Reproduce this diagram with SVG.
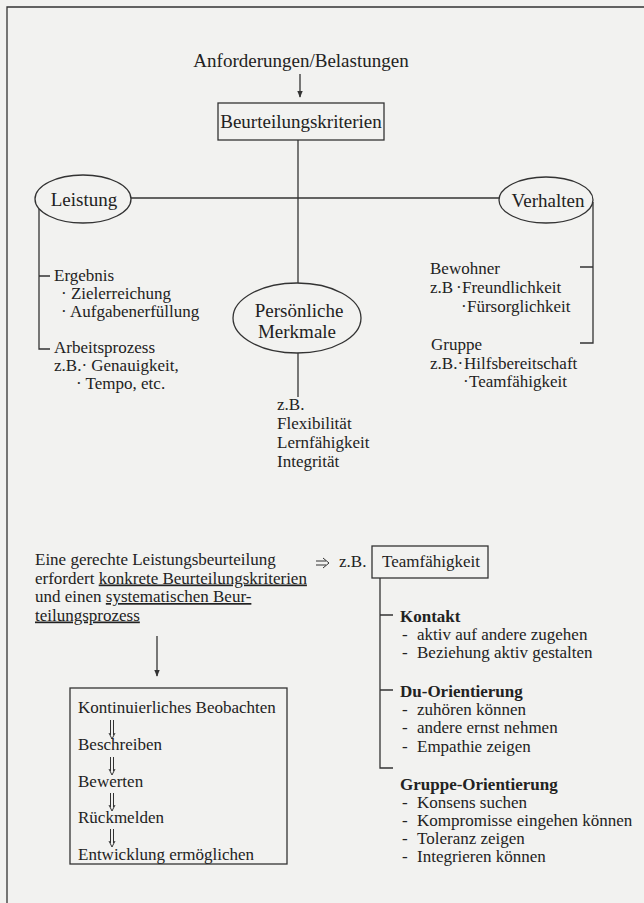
<svg xmlns="http://www.w3.org/2000/svg" width="644" height="903" viewBox="0 0 644 903">
<defs>
<style>
text{font-family:"Liberation Serif","Times New Roman",serif;fill:#222;font-size:17px}
.big{font-size:19px}
.b{font-weight:bold}
.ln{stroke:#333;stroke-width:1.3;fill:none}
.shape{stroke:#333;stroke-width:1.3;fill:none}
.dbl{stroke:#333;stroke-width:1;fill:none}
.u{text-decoration:underline}
</style>
<marker id="ah" viewBox="0 0 10 10" refX="9" refY="5" markerWidth="7" markerHeight="9" orient="auto" markerUnits="userSpaceOnUse">
<path d="M0,1 L10,5 L0,9 z" fill="#333"/>
</marker>
</defs>
<rect x="0" y="0" width="644" height="903" fill="#f2f2f0"/>
<!-- frame -->
<path class="ln" d="M7,903 V7 H644" stroke-width="1.6"/>

<g id="connectors">
<line class="ln" x1="300" y1="74" x2="300" y2="97" marker-end="url(#ah)"/>
<line class="ln" x1="298" y1="140" x2="298" y2="283"/>
<line class="ln" x1="131" y1="198" x2="499" y2="198"/>
<path class="ln" d="M39,209 V349 H50 M39,276 H50"/>
<path class="ln" d="M593,202 V343 H580 M593,267 H580"/>
<line class="ln" x1="298" y1="353" x2="298" y2="397"/>
<line class="ln" x1="157" y1="636" x2="157" y2="676" marker-end="url(#ah)"/>
<path class="ln" d="M380,578 V768 H393 M380,615 H393 M380,690 H393"/>
<path class="dbl" d="M316,561 H326 M316,565 H326 M323,558 L329,563 L323,568"/>
<g class="dbl">
<path d="M110.5,720 V735 M113.5,720 V735 M109,733 L112,739 L115,733"/>
<path d="M110.5,757 V771 M113.5,757 V771 M109,769 L112,775 L115,769"/>
<path d="M110.5,793 V807 M113.5,793 V807 M109,805 L112,811 L115,805"/>
<path d="M110.5,829 V843 M113.5,829 V843 M109,841 L112,847 L115,841"/>
</g>
</g>

<g id="anforderungen"><text class="big" x="301" y="67" text-anchor="middle">Anforderungen/Belastungen</text></g>

<g id="beurteilungskriterien">
<rect class="shape" x="218" y="103" width="166" height="37"/>
<text class="big" x="301" y="128" text-anchor="middle">Beurteilungskriterien</text>
</g>

<g id="leistung">
<ellipse class="shape" cx="83" cy="199" rx="48" ry="24"/>
<text class="big" x="84" y="206" text-anchor="middle">Leistung</text>
</g>

<g id="verhalten">
<ellipse class="shape" cx="546" cy="200" rx="47" ry="23"/>
<text class="big" x="548" y="207" text-anchor="middle">Verhalten</text>
</g>

<g id="persoenliche-merkmale">
<ellipse class="shape" cx="297" cy="318" rx="64" ry="35"/>
<text class="big" x="299" y="317" text-anchor="middle">Persönliche</text>
<text class="big" x="297" y="338" text-anchor="middle">Merkmale</text>
</g>

<g id="leistung-details">
<text x="54" y="281">Ergebnis</text>
<text x="61" y="299">· Zielerreichung</text>
<text x="61" y="317">· Aufgabenerfüllung</text>
<text x="54" y="353">Arbeitsprozess</text>
<text x="54" y="371">z.B.· Genauigkeit,</text>
<text x="76" y="389">· Tempo, etc.</text>
</g>

<g id="verhalten-details">
<text x="430" y="274">Bewohner</text>
<text x="430" y="293">z.B<tspan x="456">·</tspan><tspan x="462">Freundlichkeit</tspan></text>
<text x="461" y="312">·<tspan x="467">Fürsorglichkeit</tspan></text>
<text x="431" y="350">Gruppe</text>
<text x="430" y="369">z.B.·<tspan x="464">Hilfsbereitschaft</tspan></text>
<text x="463" y="387">·<tspan x="469">Teamfähigkeit</tspan></text>
</g>

<g id="merkmale-details">
<text x="277" y="410">z.B.</text>
<text x="277" y="429">Flexibilität</text>
<text x="277" y="448">Lernfähigkeit</text>
<text x="277" y="467">Integrität</text>
</g>

<g id="aussage">
<text x="35" y="565">Eine gerechte Leistungsbeurteilung</text>
<text x="35" y="583.5">erfordert <tspan class="u">konkrete Beurteilungskriterien</tspan></text>
<text x="35" y="602">und einen <tspan class="u">systematischen Beur-</tspan></text>
<text x="35" y="620.5" class="u">teilungsprozess</text>
<text x="339" y="567">z.B.</text>
</g>

<g id="teamfaehigkeit">
<rect class="shape" x="372" y="546" width="116" height="32"/>
<text x="382" y="567">Teamfähigkeit</text>
</g>

<g id="team-details">
<text class="b" x="400" y="622">Kontakt</text>
<text x="402" y="640">-</text><text x="417" y="640">aktiv auf andere zugehen</text>
<text x="402" y="658">-</text><text x="417" y="658">Beziehung aktiv gestalten</text>
<text class="b" x="400" y="697">Du-Orientierung</text>
<text x="402" y="715">-</text><text x="417" y="715">zuhören können</text>
<text x="402" y="733">-</text><text x="417" y="733">andere ernst nehmen</text>
<text x="402" y="752">-</text><text x="417" y="752">Empathie zeigen</text>
<text class="b" x="400" y="790">Gruppe-Orientierung</text>
<text x="402" y="808">-</text><text x="417" y="808">Konsens suchen</text>
<text x="402" y="826">-</text><text x="417" y="826">Kompromisse eingehen können</text>
<text x="402" y="844">-</text><text x="417" y="844">Toleranz zeigen</text>
<text x="402" y="862">-</text><text x="417" y="862">Integrieren können</text>
</g>

<g id="prozess">
<rect class="shape" x="70" y="688" width="217" height="176"/>
<text x="78" y="713">Kontinuierliches Beobachten</text>
<text x="78" y="750">Beschreiben</text>
<text x="78" y="787">Bewerten</text>
<text x="78" y="823">Rückmelden</text>
<text x="78" y="860">Entwicklung ermöglichen</text>
</g>
</svg>
